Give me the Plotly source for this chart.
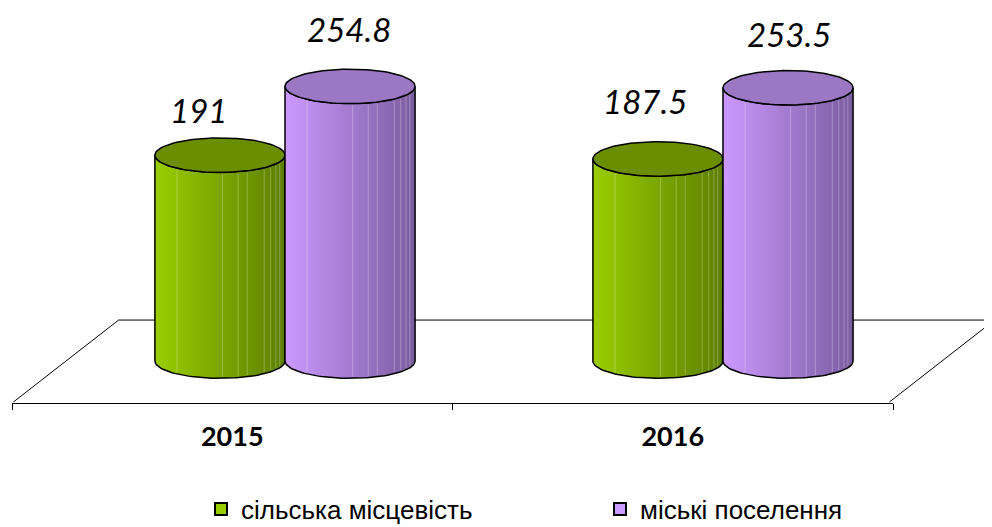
import numpy as np
import plotly.graph_objects as go

# ---- data ----
categories = ["2015", "2016"]
series_names = ["сільська місцевість", "міські поселення"]
rural = [191, 187.5]
urban = [254.8, 253.5]
value_text = [["191", "187.5"], ["254.8", "253.5"]]

# ---- styling ----
body_scales = [
    [[0, "#9ACD00"], [1, "#5C7F00"]],
    [[0, "#CC99FF"], [1, "#7A5CA0"]],
]
top_colors = ["#6B8E00", "#9B77C4"]
legend_colors = ["#99CC00", "#CC99FF"]
facet_fracs = [0.17, 0.52, 0.64, 0.71, 0.84, 0.89, 0.93, 0.96]
bar_w = 0.297          # cylinder width (x units)
ell_b = 16.0           # ellipse half-height (y units)
depth = 0.12           # floor half-depth (x units)
floor_h = 38.0         # floor half-depth (y units)
label_dx = [[-21, -13], [-1, 1]]
label_dy = [[45, 58], [57, 54]]

W, H_FIG = 984, 560

fig = go.Figure()

theta_front = np.linspace(np.pi, 2 * np.pi, 60)
theta_full = np.linspace(0, 2 * np.pi, 120)

# floor (left, back, right edges)
nc = len(categories)
fx = [-0.5 - depth, -0.5 + depth, nc - 0.5 + depth, nc - 0.5 - depth]
fy = [-floor_h, floor_h, floor_h, -floor_h]
fig.add_trace(go.Scatter(x=fx, y=fy, mode="lines", line=dict(color="black", width=1),
                         showlegend=False, hoverinfo="skip"))

for ci in range(nc):
    for si, vals in enumerate([rural, urban]):
        c = ci + (si - 0.5) * bar_w
        a = bar_w / 2
        Hv = vals[ci]
        xs = [c - a, c - a]
        ys = [0, Hv]
        xs += list(c + a * np.cos(theta_front))
        ys += list(Hv + ell_b * np.sin(theta_front))
        xs += [c + a]
        ys += [0]
        xs += list(c + a * np.cos(theta_front[::-1]))
        ys += list(ell_b * np.sin(theta_front[::-1]))
        fig.add_trace(go.Scatter(
            x=xs, y=ys, mode="lines", fill="toself",
            fillgradient=dict(type="horizontal", colorscale=body_scales[si]),
            line=dict(color="black", width=1.5), showlegend=False, hoverinfo="skip"))
        # faint facet lines
        lx, ly = [], []
        for f in facet_fracs:
            xx = c - a + f * 2 * a
            dy = ell_b * np.sqrt(max(0.0, 1 - ((xx - c) / a) ** 2))
            lx += [xx, xx, None]
            ly += [-dy + 1.5, Hv - dy - 1.5, None]
        fig.add_trace(go.Scatter(x=lx, y=ly, mode="lines",
                                 line=dict(color="rgba(255,255,255,0.28)", width=1),
                                 showlegend=False, hoverinfo="skip"))
        fig.add_trace(go.Scatter(
            x=c + a * np.cos(theta_full), y=Hv + ell_b * np.sin(theta_full),
            mode="lines", fill="toself", fillcolor=top_colors[si],
            line=dict(color="black", width=1.5), showlegend=False, hoverinfo="skip"))
        fig.add_annotation(x=c, y=Hv, text=value_text[si][ci], showarrow=False,
                           xshift=label_dx[si][ci], yshift=label_dy[si][ci],
                           font=dict(family="Lato", size=33, color="black", style="italic"))

# legend entries (one legend box per series)
legend_ids = ["legend", "legend2"]
for si in range(2):
    fig.add_trace(go.Scatter(x=[None], y=[None], mode="markers", name=series_names[si],
                             legend=legend_ids[si],
                             marker=dict(symbol="square", size=13, color=legend_colors[si],
                                         line=dict(color="black", width=1.5))))

# dummy trace for the category axis
fig.add_trace(go.Scatter(x=[None], y=[None], xaxis="x2", yaxis="y", showlegend=False,
                         hoverinfo="skip"))

legend_style = dict(orientation="h", xanchor="left", yanchor="middle",
                    y=1 - 501 / H_FIG,
                    font=dict(family="Liberation Sans", size=26, color="black"),
                    bgcolor="rgba(0,0,0,0)", itemsizing="constant")

fig.update_layout(
    width=W, height=H_FIG, autosize=False,
    margin=dict(l=0, r=0, t=0, b=0),
    paper_bgcolor="white", plot_bgcolor="rgba(0,0,0,0)",
    xaxis=dict(range=[-0.6324, 1.6142], visible=False),
    yaxis=dict(range=[-192.0, 327.5], visible=False),
    xaxis2=dict(domain=[4 / W, 885 / W], anchor="free",
                position=1 - 395 / H_FIG, range=[-0.5, nc - 0.5],
                tickvals=list(range(nc)), ticktext=categories, ticks="",
                showline=True, linecolor="black", linewidth=1.2,
                showgrid=False, zeroline=False, ticklabelstandoff=9,
                tickfont=dict(family="Lato", size=27, color="black", weight="bold"),
                minor=dict(tickvals=[i - 0.5 for i in range(nc + 1)], ticks="outside",
                           ticklen=6, tickcolor="black", tickwidth=1, showgrid=False)),
    showlegend=True,
    legend=dict(x=193 / W, **legend_style),
    legend2=dict(x=592 / W, **legend_style),
)

fig.write_html("out.html")
